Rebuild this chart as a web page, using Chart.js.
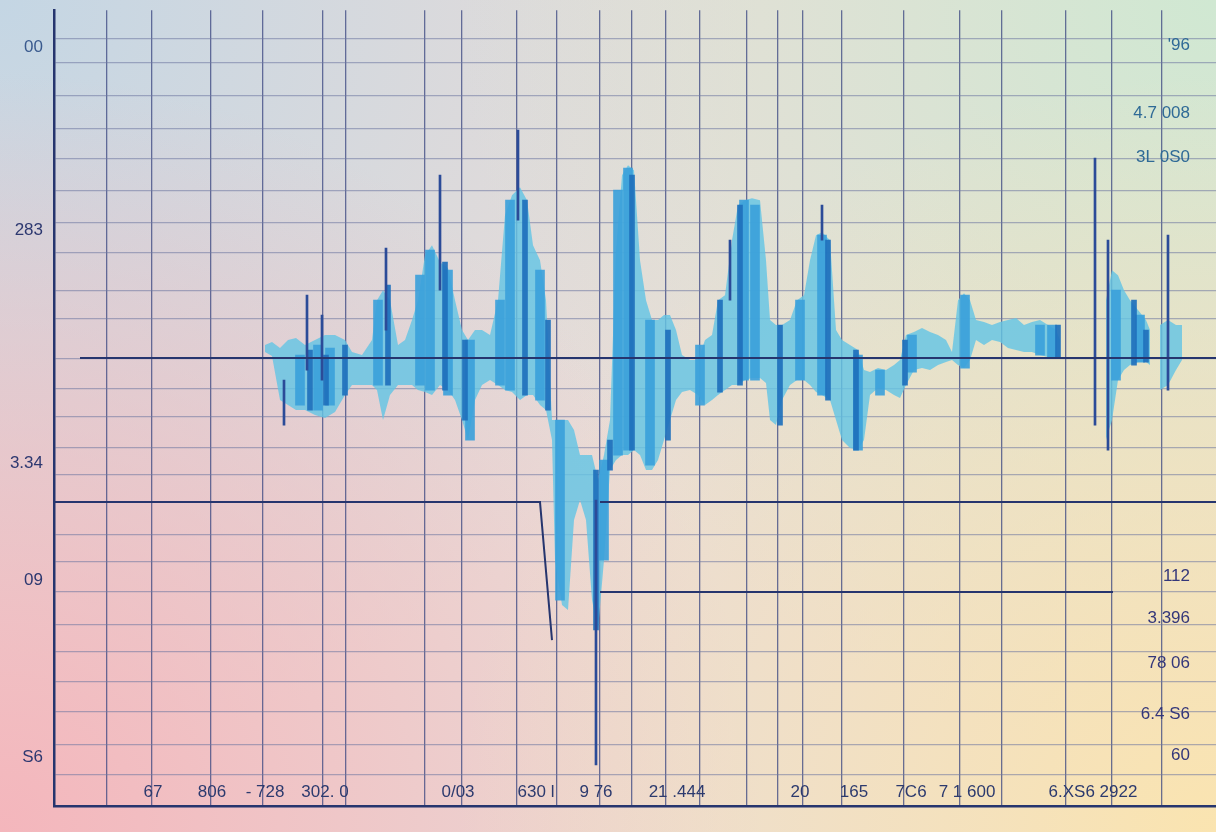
<!DOCTYPE html>
<html>
<head>
<meta charset="utf-8">
<title>Waveform</title>
<script src="https://cdn.jsdelivr.net/npm/chart.js@4.4.1/dist/chart.umd.min.js"></script>
<style>
    html, body { margin: 0; padding: 0; }
    body { width: 1216px; height: 832px; overflow: hidden; }
</style>
</head>
<body>
<canvas id="waveChart" width="1216" height="832"></canvas>
<script>
// x in ms from the left axis, y in signal units from the bottom axis

// light cyan envelope (null = gap)
const lightX = [211, 218, 226, 234, 242, 251, 261, 271, 281, 291, 298, 308, 318, 323, 329, 336, 344, 351, 358, 364,
    371, 378, 386, 394, 401, 408, 414, 421, 428, 436, 444, 451, 458, 466, 473, 479, 486, 492, 498, 501,
    508, 514, 520, 526, 532, 538, 544, 550, 556, 562, 568, 574, 580, 586, 592, 598, 604, 610, 616, 622,
    628, 636, 644, 651, 658, 664, 671, 678, 684, 691, 698, 706, 712, 716, 722, 728, 736, 743, 750, 756,
    762, 768, 776, 782, 788, 796, 804, 810, 816, 824, 832, 840, 846, 852, 860, 868, 876, 884, 892, 898,
    904, 910, 916, 922, 930, 938, 946, 954, 962, 970, 978, 986, 994, 1002, 1006, 1030,
    1052, 1058, 1064, 1070, 1076, 1084, 1092, 1096, 1101, 1106, 1114, 1122, 1128];
const lightTop = [461, 464, 458, 466, 468, 461, 466, 471, 471, 466, 454, 451, 466, 506, 516, 506, 461, 466, 486, 506,
    551, 561, 544, 538, 506, 476, 466, 476, 476, 471, 506, 591, 611, 619, 606, 561, 546, 506, 386, 386,
    386, 386, 376, 351, 351, 351, 326, 351, 386, 556, 631, 641, 636, 546, 506, 486, 486, 491, 491, 476,
    451, 446, 446, 466, 471, 506, 511, 566, 601, 606, 608, 606, 546, 486, 481, 481, 486, 506, 511, 546,
    571, 574, 566, 476, 466, 461, 456, 436, 434, 438, 436, 441, 446, 471, 474, 478, 474, 471, 466, 454,
    506, 513, 506, 486, 484, 481, 484, 486, 488, 481, 484, 486, 481, 476, 466, null,
    506, 536, 531, 516, 506, 496, 486, 476, null, 481, 486, 481, 481];
const lightLow = [454, 450, 406, 401, 396, 396, 391, 388, 394, 411, 421, 421, 421, 416, 386, 411, 421, 421, 421, 416,
    414, 411, 421, 416, 406, 386, 366, 406, 421, 426, 421, 416, 414, 406, 411, 411, 401, 396, 366, 246,
    201, 196, 286, 306, 286, 206, 176, 246, 336, 346, 351, 351, 356, 351, 336, 336, 346, 366, 386, 406,
    414, 416, 411, 401, 406, 411, 416, 421, 421, 426, 428, 428, 423, 386, 381, 406, 421, 426, 426, 421,
    414, 411, 406, 386, 366, 358, 356, 366, 411, 418, 416, 411, 408, 421, 436, 438, 436, 441, 444, 446,
    441, 438, 446, 466, 461, 466, 464, 458, 456, 454, 454, 451, 449, 449, 449, null,
    366, 386, 426, 436, 441, 444, 444, 441, null, 416, 421, 436, 446];

// medium blue slices
const midX = [246, 264, 276, 324, 366, 376, 394, 416, 446, 456, 486, 506, 550, 564, 574, 596, 646, 690, 701, 746,
    768, 804, 826, 858, 911, 986, 998, 1062, 1086];
const midHigh = [451, 461, 458, 506, 531, 556, 536, 466, 506, 606, 536, 386, 346, 616, 638, 486, 461, 606, 601, 506,
    571, 451, 436, 471, 511, 481, 481, 516, 491];
const midLow = [401, 396, 401, 421, 421, 416, 411, 366, 421, 416, 406, 206, 246, 351, 356, 341, 401, 426, 426, 426,
    411, 356, 411, 434, 438, 451, 449, 426, 444];

// dark blue slices
const darkX = [256, 272, 291, 334, 391, 411, 471, 494, 542, 556, 578, 614, 666, 686, 726, 774, 802, 851, 1004, 1080, 1092];
const darkHigh = [456, 451, 461, 521, 544, 466, 606, 486, 336, 366, 631, 476, 506, 601, 481, 566, 456, 466, 481, 506, 476];
const darkLow = [396, 401, 411, 421, 416, 386, 411, 396, 176, 336, 356, 366, 414, 421, 381, 406, 356, 421, 448, 441, 444];

// thin spikes
const spikeX = [230, 253, 268, 332, 386, 464, 542, 676, 768, 1041, 1054, 1114];
const spikeHigh = [426, 511, 491, 558, 631, 676, 306, 566, 601, 648, 566, 571];
const spikeLow = [381, 436, 426, 476, 516, 586, 41, 506, 566, 381, 356, 416];

// flat reference lines
const refLineA = [[26, 448], [1162, 448]];
const refLineB = [[0, 304], [486, 304], [498, 166]];
const refLineC = [[546, 304], [1162, 304]];
const refLineD = [[546, 214], [1059, 214]];

// grid positions
const gridX = [53, 98, 157, 209, 269, 292, 371, 408, 463, 503, 546, 578, 612, 646, 693, 724, 749, 788, 850, 906, 948, 1012, 1058, 1108];
const gridY = [768, 744, 711, 678, 648, 616, 584, 554, 516, 488, 448, 418, 389, 358, 331, 304, 271, 244, 214, 181, 154, 124, 94, 61, 31];

// tick labels
const bottomTicks = [99, 158, 211, 271, 404, 482, 542, 623, 746, 800, 857, 913, 1039];
const bottomLabels = ['67', '806', '- 728', '302. 0', '0/03', '630 l', '9 76', '21 .444', '20', '165', '7C6', '7 1 600', '6.XS6 2922'];
const leftTicks = [759, 576, 343, 226, 49];
const leftLabels = ['00', '283', '3.34', '09', 'S6'];
const rightTicks = [761, 693, 649, 230, 188, 143, 92, 51];
const rightLabels = ["'96", '4.7 008', '3L 0S0', '112', '3.396', '78 06', '6.4 S6', '60'];

const NAVY = '#26356e';

function pairs(xs, ys) {
    return xs.map((x, i) => ({ x: x, y: ys[i] }));
}

function ranges(xs, hi, lo) {
    return xs.map((x, i) => ({ x: x, y: [lo[i], hi[i]] }));
}

function points(list) {
    return list.map(p => ({ x: p[0], y: p[1] }));
}

// soft pastel background
const backdrop = {
    id: 'backdrop',
    beforeDraw(chart) {
        const { ctx, width, height } = chart;
        ctx.save();
        ctx.fillStyle = '#e9dcd7';
        ctx.fillRect(0, 0, width, height);
        const corners = [
            [0, 0, 'rgba(196,214,228,1)'],
            [width, 0, 'rgba(208,232,210,1)'],
            [0, height, 'rgba(244,182,188,1)'],
            [width, height, 'rgba(250,228,176,1)']
        ];
        corners.forEach(c => {
            const g = ctx.createRadialGradient(c[0], c[1], 0, c[0], c[1], 760);
            g.addColorStop(0, c[2]);
            g.addColorStop(1, c[2].replace(',1)', ',0)'));
            ctx.fillStyle = g;
            ctx.fillRect(0, 0, width, height);
        });
        ctx.restore();
    }
};

function fixedTicks(list) {
    return function(axis) {
        axis.ticks = list.map(v => ({ value: v }));
    };
}

function labelFrom(list) {
    return function(value, index) {
        return list[index];
    };
}

const labelFont = { family: 'Liberation Sans', size: 17 };

new Chart(document.getElementById('waveChart'), {
    type: 'line',
    data: {
        datasets: [
            {
                data: pairs(lightX, lightTop),
                fill: '+1',
                backgroundColor: 'rgba(100,196,228,0.82)',
                borderWidth: 0,
                pointRadius: 0,
                spanGaps: false,
                order: 6
            },
            {
                data: pairs(lightX, lightLow),
                fill: false,
                borderWidth: 0,
                pointRadius: 0,
                spanGaps: false,
                order: 7
            },
            {
                type: 'bar',
                data: ranges(midX, midHigh, midLow),
                backgroundColor: 'rgba(58,160,218,0.9)',
                barThickness: 9,
                grouped: false,
                order: 5
            },
            {
                type: 'bar',
                data: ranges(darkX, darkHigh, darkLow),
                backgroundColor: 'rgba(30,112,188,0.92)',
                barThickness: 5,
                grouped: false,
                order: 4
            },
            {
                type: 'bar',
                data: ranges(spikeX, spikeHigh, spikeLow),
                backgroundColor: '#2b4b98',
                barThickness: 2,
                grouped: false,
                order: 3
            },
            { data: points(refLineA), borderColor: NAVY, borderWidth: 2, pointRadius: 0, order: 1 },
            { data: points(refLineB), borderColor: NAVY, borderWidth: 2, pointRadius: 0, order: 1 },
            { data: points(refLineC), borderColor: NAVY, borderWidth: 2, pointRadius: 0, order: 1 },
            { data: points(refLineD), borderColor: NAVY, borderWidth: 2, pointRadius: 0, order: 1 }
        ]
    },
    options: {
        responsive: false,
        animation: false,
        layout: { padding: { top: 10, left: 54, right: 0, bottom: 26 } },
        plugins: {
            legend: { display: false },
            tooltip: { enabled: false }
        },
        scales: {
            x: {
                type: 'linear',
                min: 0,
                max: 1162,
                offset: false,
                afterBuildTicks: fixedTicks(gridX),
                grid: { color: 'rgba(58,70,128,0.75)', lineWidth: 1.3, drawTicks: false, offset: false },
                border: { color: NAVY, width: 2.5 },
                ticks: { display: false }
            },
            y: {
                type: 'linear',
                min: 0,
                max: 796,
                afterBuildTicks: fixedTicks(gridY),
                grid: { color: 'rgba(110,118,160,0.55)', lineWidth: 1.2, drawTicks: false },
                border: { color: NAVY, width: 2.5 },
                ticks: { display: false }
            },
            xLab: {
                axis: 'x',
                type: 'linear',
                min: 0,
                max: 1162,
                position: { y: 32 },
                afterBuildTicks: fixedTicks(bottomTicks),
                grid: { display: false },
                border: { display: false },
                ticks: {
                    autoSkip: false,
                    maxRotation: 0,
                    padding: 0,
                    font: labelFont,
                    color: '#2c3a6e',
                    callback: labelFrom(bottomLabels)
                }
            },
            yL: {
                axis: 'y',
                type: 'linear',
                min: 0,
                max: 796,
                position: { x: -11 },
                afterBuildTicks: fixedTicks(leftTicks),
                grid: { display: false },
                border: { display: false },
                ticks: {
                    autoSkip: false,
                    padding: 0,
                    font: labelFont,
                    color: (ctx) => ctx.tick && ctx.tick.value > 700 ? '#3a5a8e' : '#2d3870',
                    callback: labelFrom(leftLabels)
                }
            },
            yR: {
                axis: 'y',
                type: 'linear',
                min: 0,
                max: 796,
                position: { x: 1136 },
                afterBuildTicks: fixedTicks(rightTicks),
                grid: { display: false },
                border: { display: false },
                ticks: {
                    autoSkip: false,
                    padding: 0,
                    font: labelFont,
                    color: (ctx) => ctx.tick && ctx.tick.value > 400 ? '#2f6a96' : '#34377a',
                    callback: labelFrom(rightLabels)
                }
            }
        }
    },
    plugins: [backdrop]
});
</script>
</body>
</html>
